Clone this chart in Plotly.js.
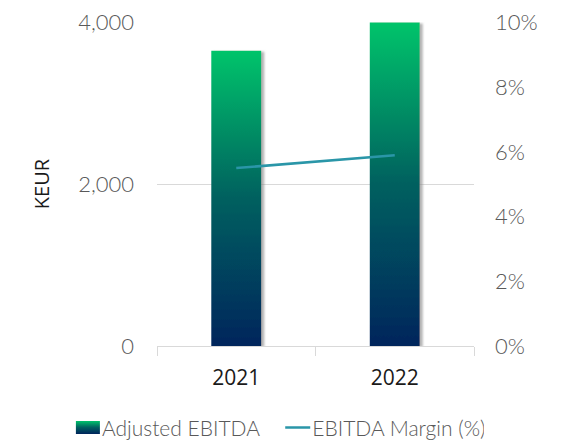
<!DOCTYPE html>
<html><head><meta charset="utf-8">
<script src="https://cdn.plot.ly/plotly-3.0.1.min.js"></script>
<style>html,body{margin:0;padding:0;background:#fff}#chart{width:573px;height:441px}</style>
</head><body><div id="chart"></div>
<script>
const years = ['2021', '2022'];
const adjustedEbitda = [3650, 4000];
const ebitdaMargin = [0.055, 0.059];
const leftTickVals = [0, 2000, 4000];
const leftTickText = ['0', '2,000', '4,000'];
const rightTickVals = [0, 0.02, 0.04, 0.06, 0.08, 0.10];
const rightTickText = ['0%', '2%', '4%', '6%', '8%', '10%'];

const FONT = '"Open Sans", Lato, sans-serif';
const LIGHT = 'Lato, "Open Sans", sans-serif';
const GREY = '#595959';

const traces = [
  {
    type: 'bar', name: 'Adjusted EBITDA', x: years, y: adjustedEbitda,
    marker: {color: '#00705f', line: {width: 0}},
    hoverinfo: 'none'
  },
  {
    type: 'scatter', mode: 'lines', name: 'EBITDA Margin (%)', x: years, y: ebitdaMargin,
    yaxis: 'y2', line: {color: '#2a96a8', width: 2.5}, hoverinfo: 'none'
  }
];

const layout = {
  width: 573, height: 441,
  margin: {l: 157, r: 99, t: 22, b: 95, autoexpand: false},
  paper_bgcolor: '#fff', plot_bgcolor: '#fff',
  showlegend: true,
  bargap: 0.685,
  font: {family: FONT, color: GREY, size: 19},
  xaxis: {
    type: 'category', tickson: 'boundaries', ticks: 'outside', ticklen: 9,
    tickcolor: '#d9d9d9', tickwidth: 1, showline: true, linecolor: '#d9d9d9', linewidth: 1,
    showgrid: false, zeroline: false,
    tickfont: {family: FONT, size: 21, color: '#1a1a1a'}, ticklabelstandoff: 13
  },
  yaxis: {
    range: [0, 4006], tickvals: leftTickVals, ticktext: leftTickText,
    showgrid: true, gridcolor: '#d9d9d9', gridwidth: 1, zeroline: false, showline: false,
    tickfont: {family: LIGHT, size: 22, weight: 300, color: GREY}, ticklabelstandoff: 22,
    title: {text: 'KEUR', font: {family: FONT, size: 20, color: '#1a1a1a'}, standoff: 23}
  },
  yaxis2: {
    overlaying: 'y', side: 'right', range: [0, 0.10015],
    tickvals: rightTickVals, ticktext: rightTickText,
    showgrid: false, zeroline: false, showline: false,
    tickfont: {family: LIGHT, size: 22, weight: 300, color: GREY}, ticklabelstandoff: 20
  },
  legend: {
    orientation: 'h', x: -0.3, xanchor: 'left', xref: 'paper',
    y: -0.189, yanchor: 'top', yref: 'paper',
    font: {family: LIGHT, size: 21, weight: 300, color: GREY},
    itemwidth: 30, traceorder: 'normal', tracegroupgap: 0
  }
};

Plotly.newPlot('chart', traces, layout, {displayModeBar: false, staticPlot: true}).then(function(gd) {
  const ns = 'http://www.w3.org/2000/svg';
  const svg = gd.querySelector('svg.main-svg');
  let defs = svg.querySelector('defs');
  if (!defs) { defs = document.createElementNS(ns, 'defs'); svg.insertBefore(defs, svg.firstChild); }
  const grad = document.createElementNS(ns, 'linearGradient');
  grad.setAttribute('id', 'ebitdaGrad');
  grad.setAttribute('x1', '0'); grad.setAttribute('y1', '0');
  grad.setAttribute('x2', '0'); grad.setAttribute('y2', '1');
  [['0', '#00c46b'], ['0.5', '#00605f'], ['1', '#00255c']].forEach(function(s) {
    const st = document.createElementNS(ns, 'stop');
    st.setAttribute('offset', s[0]); st.setAttribute('stop-color', s[1]);
    grad.appendChild(st);
  });
  defs.appendChild(grad);
  const filt = document.createElementNS(ns, 'filter');
  filt.setAttribute('id', 'barShadow');
  filt.setAttribute('x', '-20%'); filt.setAttribute('y', '-5%');
  filt.setAttribute('width', '150%'); filt.setAttribute('height', '115%');
  const ds = document.createElementNS(ns, 'feDropShadow');
  ds.setAttribute('dx', '3'); ds.setAttribute('dy', '1');
  ds.setAttribute('stdDeviation', '1.2');
  ds.setAttribute('flood-color', '#808080'); ds.setAttribute('flood-opacity', '0.6');
  filt.appendChild(ds);
  defs.appendChild(filt);
  gd.querySelectorAll('.barlayer .point path').forEach(function(p) {
    p.style.fill = 'url(#ebitdaGrad)';
    p.style.filter = 'url(#barShadow)';
  });
  const legendTraces = gd.querySelectorAll('.legend .traces');
  if (legendTraces.length) {
    legendTraces[0].querySelectorAll('.legendpoints path').forEach(function(p) {
      p.style.fill = 'url(#ebitdaGrad)';
      p.setAttribute('d', 'M18,6.5H-6V-6.5H18Z');
    });
  }
  if (legendTraces.length > 1) {
    const t2 = legendTraces[1];
    t2.querySelectorAll('.legendlines path').forEach(function(p) {
      p.setAttribute('d', 'M13,0h25');
    });
    const tr = t2.getAttribute('transform') || '';
    const m = tr.match(/translate\(\s*([-\d.]+)[ ,]+([-\d.]+)\s*\)/);
    if (m) {
      t2.setAttribute('transform', 'translate(' + (parseFloat(m[1]) + 7) + ',' + m[2] + ')');
    }
    svg.querySelectorAll('clipPath[id^="legend"] rect').forEach(function(r) {
      const w = parseFloat(r.getAttribute('width') || '0');
      r.setAttribute('width', String(w + 20));
    });
  }
});
</script>
</body></html>
